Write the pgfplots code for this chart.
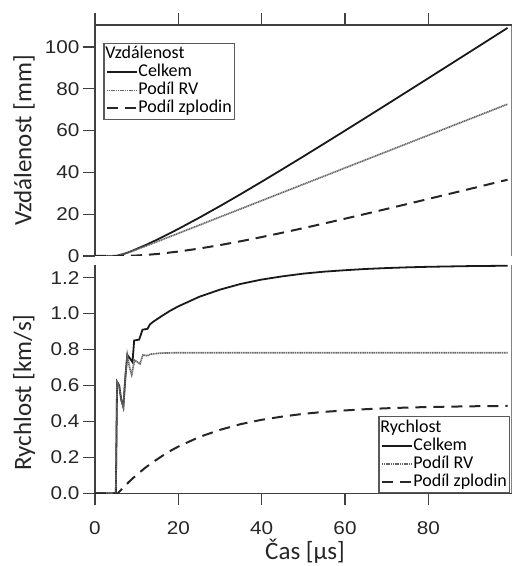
\documentclass[border=0pt]{standalone}
\usepackage{fontspec}
\usepackage{pgfplots}
\pgfplotsset{compat=1.18}
\setmainfont{Carlito}
\newfontfamily\labfont{Carlito}
\newfontfamily\tickfont[FakeStretch=1.12]{Liberation Sans}

\pgfplotsset{
  legend image code/.code={\draw[#1] (0pt,0pt) -- (30pt,0pt);},
  panel/.style={
    scale only axis, width=416.7pt,
    xmin=0, xmax=100, xtick={0,20,40,60,80},
    axis line style={black!75, line width=1.3pt},
    major tick length=12pt, tick align=outside,
    tick style={black!75, line width=1.3pt},
    ticklabel style={font=\tickfont\fontsize{18.5}{20}\selectfont, text=black!85},
    /pgf/number format/assume math mode=true,
    label style={font=\labfont\fontsize{25}{28}\selectfont, text=black!85},
    legend cell align=left,
    legend style={font=\labfont\fontsize{18}{18}\selectfont, draw=black!65,
      line width=1.2pt, inner sep=2pt, row sep=0pt,
      nodes={inner sep=0.5pt, text height=13pt, text depth=4pt}},
  },
  celkem/.style={black!90, line width=1.8pt},
  rv/.style={black!60, line width=1.7pt, dash pattern=on 1.2pt off 0.6pt},
  zpl/.style={black!85, line width=2pt, dash pattern=on 11pt off 7pt},
}

\begin{document}
\begin{tikzpicture}
\useasboundingbox (0,0) rectangle (512pt,566pt);

% top panel: distance
\begin{axis}[panel, at={(95pt,310pt)}, anchor=south west, height=231pt,
  ymin=0, ymax=110.5, ytick={0,20,...,100},
  axis x line*=top, axis y line*=left, xticklabels={},
  ylabel={Vzdálenost [mm]},
  ylabel style={at={(axis description cs:-0.17,0.5)}, anchor=center},
  legend style={at={(0.02,0.923)}, anchor=north west}]
\addlegendimage{empty legend}
\addlegendentry{\hspace*{-33pt}Vzdálenost}
\addplot[celkem] coordinates {(0,0)(5.0,0)(5.3,0.09)(5.8,0.40)(6.8,0.93)(7.75,1.55)(8.8,2.35)(10,3.4)(12,5.1)(14,6.96)(16,8.90)(18,10.90)(20,12.96)(25,18.30)(30,23.88)(35,29.64)(40,35.54)(45,41.54)(50,47.62)(55,53.77)(60,59.97)(65,66.20)(70,72.46)(75,78.75)(80,85.05)(85,91.37)(90,97.69)(95,104.03)(99,109.1)};
\addlegendentry{Celkem}
\addplot[rv] coordinates {(0,0)(5.0,0)(5.3,0.09)(5.8,0.40)(6.8,0.93)(7.75,1.53)(8.8,2.28)(10.2,3.28)(11.5,4.24)(13.5,5.77)(16,7.72)(20,10.84)(25,14.75)(30,18.66)(40,26.48)(50,34.30)(60,42.12)(70,49.94)(80,57.76)(90,65.58)(99,72.62)};
\addlegendentry{Podíl RV}
\addplot[zpl] coordinates {(0,0)(5.5,0)(8,0.08)(10,0.24)(12.5,0.56)(15,0.98)(20,2.12)(25,3.55)(30,5.22)(35,7.07)(40,9.06)(45,11.15)(50,13.32)(55,15.56)(60,17.85)(65,20.17)(70,22.52)(75,24.90)(80,27.29)(85,29.70)(90,32.11)(95,34.54)(99,36.48)};
\addlegendentry{Podíl zplodin}
\draw[black!75, line width=1.3pt] (rel axis cs:1,0) -- (rel axis cs:1,1);
\end{axis}

% bottom panel: velocity
\begin{axis}[panel, at={(95pt,72.7pt)}, anchor=south west, height=228.3pt,
  ymin=0, ymax=1.27, ytick={0,0.2,...,1.2},
  yticklabel style={/pgf/number format/.cd, fixed, fixed zerofill, precision=1},
  xticklabel style={yshift=-13pt},
  axis x line*=bottom, axis y line*=left,
  xlabel={Čas [µs]},
  xlabel style={at={(axis description cs:0.504,-0.256)}, anchor=center},
  ylabel={Rychlost [km/s]},
  ylabel style={at={(axis description cs:-0.17,0.4415)}, anchor=center},
  legend style={at={(0.996,0)}, anchor=south east}]
\addlegendimage{empty legend}
\addlegendentry{\hspace*{-33pt}Rychlost}
\addplot[celkem] coordinates {(0,0)(5.0,0)(5.3,0.62)(5.8,0.60)(6.3,0.52)(6.8,0.48)(7.3,0.65)(7.75,0.77)(8.4,0.75)(9.0,0.73)(9.4,0.85)(10.6,0.855)(11.4,0.91)(12.6,0.915)(13.2,0.94)(14,0.955)(16,0.986)(18,1.015)(20,1.04)(25,1.093)(30,1.133)(35,1.165)(40,1.189)(45,1.207)(50,1.222)(55,1.233)(60,1.241)(65,1.248)(70,1.253)(75,1.257)(80,1.260)(85,1.262)(90,1.264)(95,1.265)(99,1.266)};
\addlegendentry{Celkem}
\addplot[rv] coordinates {(0,0)(5.0,0)(5.3,0.62)(5.8,0.60)(6.3,0.52)(6.8,0.48)(7.3,0.65)(7.75,0.77)(8.3,0.70)(8.8,0.66)(9.5,0.74)(10.2,0.73)(10.8,0.72)(11.5,0.77)(12.5,0.765)(13.5,0.775)(16,0.78)(20,0.782)(99,0.782)};
\addlegendentry{Podíl RV}
\addplot[zpl] coordinates {(0,0)(5.5,0)(6,0.013)(7,0.037)(8,0.060)(9,0.082)(10,0.102)(12,0.141)(14,0.175)(16,0.206)(18,0.235)(20,0.260)(25,0.313)(30,0.353)(35,0.385)(40,0.409)(45,0.427)(50,0.442)(55,0.453)(60,0.461)(65,0.468)(70,0.473)(75,0.477)(80,0.480)(85,0.482)(90,0.484)(95,0.485)(99,0.486)};
\addlegendentry{Podíl zplodin}
\draw[black!75, line width=1.3pt] (rel axis cs:1,0) -- (rel axis cs:1,1);
\end{axis}
\end{tikzpicture}
\end{document}
